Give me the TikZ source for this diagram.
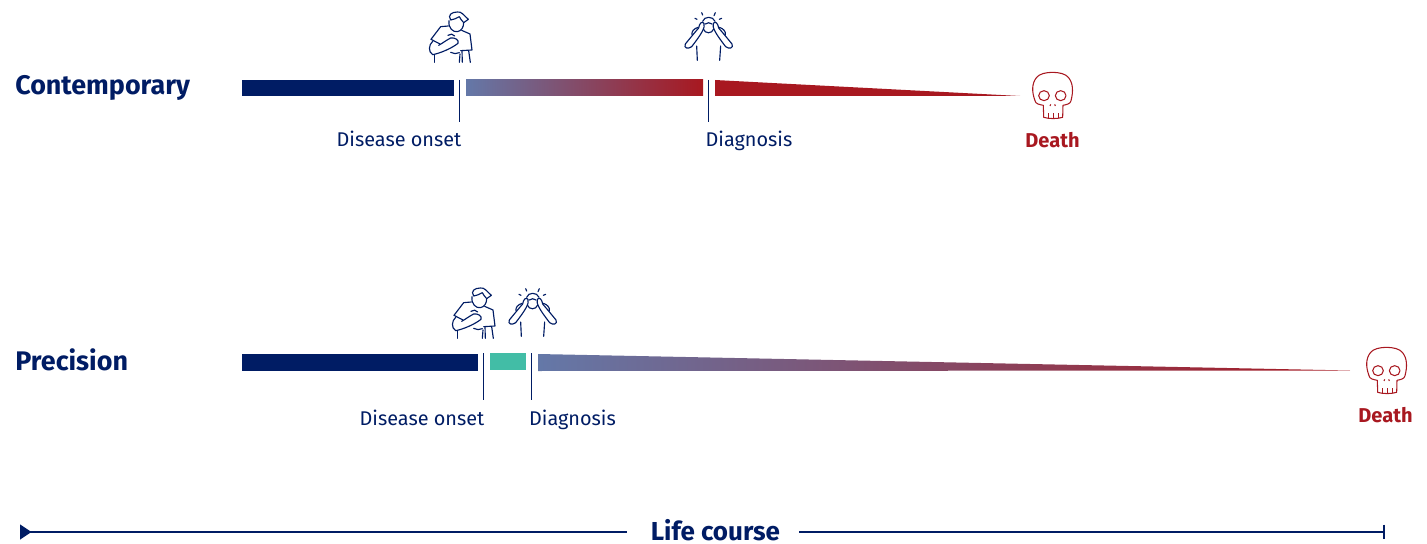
\documentclass[tikz,border=0pt]{standalone}
\usepackage{xcolor}
\usepackage{fontspec}
\setmainfont{Fira Sans}
\usetikzlibrary{arrows.meta}
\definecolor{navy}{RGB}{0,28,100}
\definecolor{deathred}{RGB}{168,24,32}
\definecolor{slate}{RGB}{100,120,168}
\definecolor{teal}{RGB}{66,189,166}

\tikzset{
    person/.pic={
        \draw[icon] (92,60) .. controls (82,45) and (95,36) .. (112,36) .. controls (125,34) and (130,45) .. (145,58) -- (131,68) .. controls (125,60) and (120,56) .. (118,50) .. controls (110,56) and (100,58) .. (92,60);
        \draw[icon] (87,62) .. controls (84,85) and (100,97) .. (112,95) .. controls (124,93) and (131,82) .. (131,68);
        \draw[icon] (85,78) -- (62,80) -- (33,118) -- (60,132);
        \draw[icon] (125,91) -- (150,102) -- (156,150) -- (122,152);
        \draw[icon] (38,124) .. controls (26,135) and (24,155) .. (38,164) .. controls (60,160) and (95,145) .. (114,130) .. controls (118,120) and (105,112) .. (92,114) .. controls (80,120) and (70,128) .. (56,136);
        \draw[icon] (84,106) .. controls (90,100) and (100,102) .. (104,108);
        \draw[icon] (92,157) .. controls (100,162) and (110,162) .. (118,158);
        \draw[icon] (44,165) -- (44,187);
        \draw[icon] (120,162) -- (118,187);
        \draw[icon] (126,152) -- (127,187);
        \draw[icon] (146,152) -- (151,187);
    },
    headache/.pic={
        \foreach \xa/\ya/\xb/\yb in {845/38/848/45, 886/38/882/47, 825/55/831/58, 905/55/898/58}
            \draw[icon] (\xa,\ya) -- (\xb,\yb);
        \draw[icon] (848,64) .. controls (852,48) and (880,48) .. (885,64);
        \draw[icon] (856,72) .. controls (862,67) and (870,67) .. (876,72);
        \draw[icon] (850,87) .. controls (855,102) and (876,102) .. (881,87);
        \draw[icon] (796,132) .. controls (810,115) and (822,100) .. (836,84) .. controls (838,70) and (846,62) .. (852,70) .. controls (856,82) and (846,100) .. (815,140) .. controls (805,148) and (790,145) .. (796,132);
        \draw[icon] (936,132) .. controls (922,115) and (910,100) .. (896,84) .. controls (894,70) and (886,62) .. (880,70) .. controls (876,82) and (886,100) .. (917,140) .. controls (927,148) and (942,145) .. (936,132);
        \draw[icon] (816,104) .. controls (814,94) and (822,86) .. (834,82);
        \draw[icon] (916,104) .. controls (918,94) and (910,86) .. (898,82);
        \draw[icon] (830,138) -- (832,181);
        \draw[icon] (902,138) -- (899,181);
    },
    skull/.pic={
        \draw[skullline] (135,122) .. controls (125,95) and (125,70) .. (140,52) .. controls (155,32) and (220,32) .. (235,52) .. controls (250,70) and (250,95) .. (243,122) .. controls (242,132) and (228,134) .. (219,136) -- (218,172) .. controls (200,177) and (178,177) .. (161,172) -- (160,136) .. controls (150,134) and (136,132) .. (135,122);
        \draw[skullline] (162,107) circle [x radius=16, y radius=15];
        \draw[skullline] (212,107) circle [x radius=16, y radius=15];
        \draw[skullline] (180,138) -- (182,133);
        \draw[skullline] (194,133) -- (196,138);
        \foreach \x in {175,190,205}
            \draw[skullline] (\x,160) -- (\x,175);
    }
}

\begin{document}
\begin{tikzpicture}[
    x=0.02cm, y=-0.02cm,
    icon/.style={navy, line width=0.65pt, line cap=round, line join=round},
    skullline/.style={deathred, line width=0.6pt, line join=round},
    tick/.style={navy, line width=0.8pt},
    rowlabel/.style={anchor=base west, inner sep=0pt, font=\fontsize{15.3}{18}\selectfont\bfseries, text=navy},
    milestone/.style={anchor=base, inner sep=0pt, font=\fontsize{11.3}{14}\selectfont, text=navy},
    deathlabel/.style={anchor=base, inner sep=0pt, font=\fontsize{11.4}{14}\selectfont\bfseries, text=deathred},
    axislabel/.style={anchor=base, inner xsep=0.38cm, inner ysep=0pt, minimum width=3.44cm, font=\fontsize{14.8}{18}\selectfont\bfseries, text=navy},
    timeline/.style={navy, line width=0.9pt}
]
    \useasboundingbox (0,0) rectangle (1427,544);

    % Contemporary row
    \node[rowlabel] (contemporary) at (15,95) {Contemporary};
    \fill[navy] (242,80) rectangle (454,96);
    \shade[left color=slate, right color=deathred] (466,80) rectangle (703,96);
    \fill[deathred] (715,80) -- (715,96) -- (1020,96) -- cycle;
    \node[milestone] (onsetA) at (399,146.5) {Disease onset};
    \node[milestone] (diagnosisA) at (749,146.5) {Diagnosis};
    \node[deathlabel] (deathA) at (1052.5,147.5) {Death};
    \coordinate (onsetAtop) at (459.7,80);
    \coordinate (onsetAend) at (459.7,122);
    \coordinate (diagnosisAtop) at (708.5,80);
    \coordinate (diagnosisAend) at (708.5,122);
    \draw[tick] (onsetAtop) -- (onsetAend);
    \draw[tick] (diagnosisAtop) -- (diagnosisAend);
    \path (420,0) pic[scale=1/3] {person};
    \path (420,0) pic[scale=1/3] {headache};
    \path (990,60) pic[scale=1/3] {skull};

    % Precision row
    \node[rowlabel] (precision) at (15,370) {Precision};
    \fill[navy] (242,354) rectangle (478,371);
    \fill[teal] (490,353) rectangle (526,370);
    \shade[left color=slate, right color=deathred] (538,354) -- (538,371) -- (1350,370.5) -- cycle;
    \node[milestone] (onsetB) at (422,425) {Disease onset};
    \node[milestone] (diagnosisB) at (572.5,425) {Diagnosis};
    \node[deathlabel] (deathB) at (1385.5,422) {Death};
    \coordinate (onsetBtop) at (483.5,353);
    \coordinate (onsetBend) at (483.5,400);
    \coordinate (diagnosisBtop) at (531.5,353);
    \coordinate (diagnosisBend) at (531.5,400);
    \draw[tick] (onsetBtop) -- (onsetBend);
    \draw[tick] (diagnosisBtop) -- (diagnosisBend);
    \path (443,276) pic[scale=1/3] {person};
    \path (244,276) pic[scale=1/3] {headache};
    \path (1324,335) pic[scale=1/3] {skull};

    % Life course axis
    \node[axislabel] (lifecourse) at (713,540) {\hspace*{2.8pt}Life course};
    \coordinate (axisstart) at (20,532);
    \coordinate (axisend) at (1385,532);
    \draw[timeline, {Triangle[reversed, length=6.5pt, width=8.5pt]}-] (axisstart) -- (axisstart -| lifecourse.west);
    \draw[timeline, -{Bar[width=8.5pt, line width=1pt]}] (axisend -| lifecourse.east) -- (axisend);
\end{tikzpicture}
\end{document}
